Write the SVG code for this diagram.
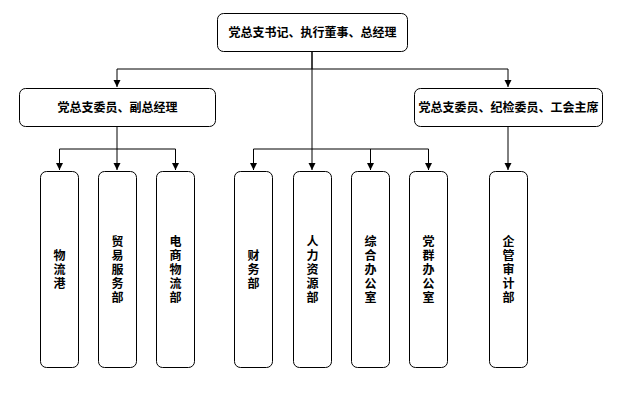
<svg xmlns="http://www.w3.org/2000/svg" width="622" height="398" viewBox="0 0 622 398">
<style>
.box{fill:#fff;stroke:#000;stroke-width:1}
.t{font-family:"Noto Sans CJK SC","Liberation Sans",sans-serif;font-size:12px;font-weight:bold;fill:#000;text-anchor:middle}
.v{font-family:"Noto Sans CJK SC","Liberation Sans",sans-serif;font-size:12px;font-weight:bold;fill:#000;text-anchor:middle;writing-mode:vertical-rl;text-orientation:upright;letter-spacing:2px}
.c{fill:none;stroke:#000;stroke-width:1}
</style>
<defs>
<marker id="ah" markerWidth="8" markerHeight="8" refX="7" refY="4" orient="auto" markerUnits="userSpaceOnUse">
<path d="M0,0.5 L7,4 L0,7.5 Z" fill="#000"/>
</marker>
</defs>
<rect width="622" height="398" fill="#fff"/>
<g id="connectors">
<path class="c" d="M312,51 V69 H117 V87" marker-end="url(#ah)"/>
<path class="c" d="M312,69 H508 V87" marker-end="url(#ah)"/>
<path class="c" d="M312,51 V170" marker-end="url(#ah)"/>
<path class="c" d="M117,126 V170" marker-end="url(#ah)"/>
<path class="c" d="M117,149 H59.5 V170" marker-end="url(#ah)"/>
<path class="c" d="M117,149 H175.5 V170" marker-end="url(#ah)"/>
<path class="c" d="M312,149 H253.5 V170" marker-end="url(#ah)"/>
<path class="c" d="M312,149 H428.5 V170" marker-end="url(#ah)"/>
<path class="c" d="M370.5,149 V170" marker-end="url(#ah)"/>
<path class="c" d="M508,126 V170" marker-end="url(#ah)"/>
</g>
<g id="top">
<rect class="box" x="217.5" y="13.5" width="190" height="38" rx="6"/>
<text class="t" x="312.5" y="36.5">党总支书记、执行董事、总经理</text>
</g>
<g id="left">
<rect class="box" x="19.5" y="88.5" width="196" height="38" rx="6"/>
<text class="t" x="117.5" y="111.5">党总支委员、副总经理</text>
</g>
<g id="right">
<rect class="box" x="414.5" y="88.5" width="188" height="38" rx="6"/>
<text class="t" x="508.5" y="111.5">党总支委员、纪检委员、工会主席</text>
</g>
<g id="n1">
<rect class="box" x="40.5" y="171.5" width="38" height="196" rx="6"/>
<text class="v" x="59.5" y="270">物流港</text>
</g>
<g id="n2">
<rect class="box" x="98.5" y="171.5" width="38" height="196" rx="6"/>
<text class="v" x="117.5" y="270">贸易服务部</text>
</g>
<g id="n3">
<rect class="box" x="156.5" y="171.5" width="38" height="196" rx="6"/>
<text class="v" x="175.5" y="270">电商物流部</text>
</g>
<g id="n4">
<rect class="box" x="234.5" y="171.5" width="38" height="196" rx="6"/>
<text class="v" x="253.5" y="270">财务部</text>
</g>
<g id="n5">
<rect class="box" x="293.5" y="171.5" width="38" height="196" rx="6"/>
<text class="v" x="312.5" y="270">人力资源部</text>
</g>
<g id="n6">
<rect class="box" x="351.5" y="171.5" width="38" height="196" rx="6"/>
<text class="v" x="370.5" y="270">综合办公室</text>
</g>
<g id="n7">
<rect class="box" x="409.5" y="171.5" width="38" height="196" rx="6"/>
<text class="v" x="428.5" y="270">党群办公室</text>
</g>
<g id="n8">
<rect class="box" x="489.5" y="171.5" width="38" height="196" rx="6"/>
<text class="v" x="508.5" y="270">企管审计部</text>
</g>
</svg>
